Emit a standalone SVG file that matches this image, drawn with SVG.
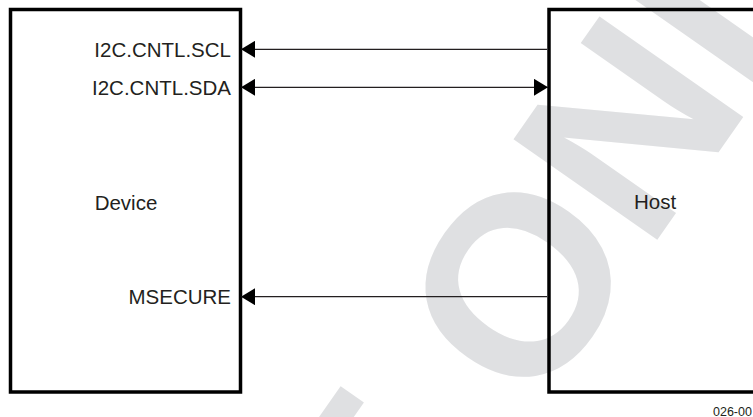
<svg xmlns="http://www.w3.org/2000/svg" width="753" height="417" viewBox="0 0 753 417">
  <style>
    .box { fill: none; stroke: #000; stroke-width: 3.5; }
    .lbl { font-family: "Liberation Sans", Arial, sans-serif; font-size: 20.5px; fill: #231f20; }
    .wire { stroke: #231f20; stroke-width: 1.3; fill: none; }
    .wm { font-family: "Liberation Sans", Arial, sans-serif; font-weight: bold; font-size: 255px; fill: #dfe0e2; }
    .fig { font-family: "Liberation Sans", Arial, sans-serif; font-size: 12.5px; fill: #231f20; }
  </style>
  <defs>
    <marker id="arr" viewBox="0 0 14 17" refX="14" refY="8.5" markerWidth="14" markerHeight="17" markerUnits="userSpaceOnUse" orient="auto-start-reverse">
      <path d="M0,0 L14,8.5 L0,17 z" fill="#000"/>
    </marker>
  </defs>
  <rect width="753" height="417" fill="#fff"/>
  <text class="wm" transform="translate(516,283) rotate(-55)" x="-340" y="91">E ONLY</text>

  <g id="device">
    <rect class="box" x="10.5" y="9.5" width="230" height="382.5"/>
    <text class="lbl" x="126" y="210" text-anchor="middle">Device</text>
    <text class="lbl" x="231" y="56.8" text-anchor="end">I2C.CNTL.SCL</text>
    <text class="lbl" x="231" y="94.8" text-anchor="end">I2C.CNTL.SDA</text>
    <text class="lbl" x="231" y="304.2" text-anchor="end">MSECURE</text>
  </g>

  <g id="host">
    <rect class="box" x="549" y="9.5" width="230" height="382.5"/>
    <text class="lbl" x="655" y="209" text-anchor="middle">Host</text>
  </g>

  <g id="connectors">
    <line class="wire" x1="547" y1="49.3" x2="241" y2="49.3" marker-end="url(#arr)"/>
    <line class="wire" x1="241" y1="87.3" x2="548" y2="87.3" marker-start="url(#arr)" marker-end="url(#arr)"/>
    <line class="wire" x1="547" y1="296.7" x2="241" y2="296.7" marker-end="url(#arr)"/>
  </g>

  <text class="fig" x="713" y="416">026-00</text>
</svg>
